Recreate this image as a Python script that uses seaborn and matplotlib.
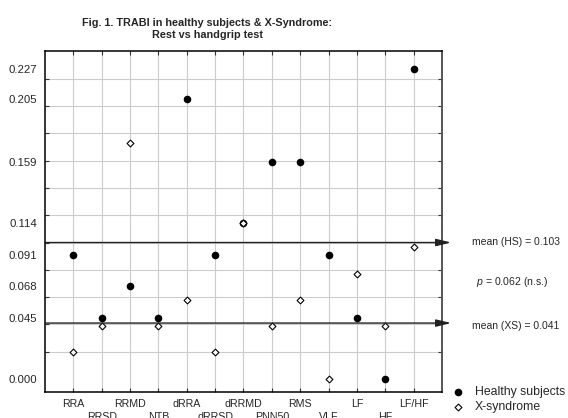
import matplotlib
matplotlib.use("Agg")
import matplotlib.pyplot as plt
import seaborn as sns
import pandas as pd
import numpy as np

categories = ["RRA", "RRSD", "RRMD", "NTB", "dRRA", "dRRSD", "dRRMD",
              "PNN50", "RMS", "VLF", "LF", "HF", "LF/HF"]
healthy = [0.091, 0.045, 0.068, 0.045, 0.205, 0.091, 0.114,
           0.159, 0.159, 0.091, 0.045, 0.000, 0.227]
xsyndrome = [0.020, 0.039, 0.173, 0.039, 0.058, 0.020, 0.114,
             0.039, 0.058, 0.000, 0.077, 0.039, 0.097]
ytick_values = [0.000, 0.045, 0.068, 0.091, 0.114, 0.159, 0.205, 0.227]
grid_values = [0.00, 0.02, 0.04, 0.06, 0.08, 0.10, 0.12, 0.14, 0.16, 0.18, 0.20, 0.22]
arrow_levels = [0.100, 0.041]
title = "Fig. 1. TRABI in healthy subjects & X-Syndrome:\nRest vs handgrip test"

sns.set_style("white")
plt.rcParams["font.family"] = ["Liberation Sans", "DejaVu Sans"]
plt.rcParams["mathtext.fontset"] = "custom"
plt.rcParams["mathtext.it"] = "Liberation Sans:italic"
plt.rcParams["mathtext.rm"] = "Liberation Sans"

df_hs = pd.DataFrame({"cat": categories, "val": healthy})
df_xs = pd.DataFrame({"cat": categories, "val": xsyndrome})

fig = plt.figure(figsize=(5.68, 4.18), dpi=100)
ax = fig.add_axes([45/568, 1-392/418, (442-45)/568, (392-51)/418])

sns.scatterplot(data=df_hs, x="cat", y="val", ax=ax, marker="o", color="black",
                s=30, linewidth=0, label="Healthy subjects", zorder=3)
sns.scatterplot(data=df_xs, x="cat", y="val", ax=ax, marker="D", color="white",
                edgecolor="black", s=12, linewidth=0.8, label="X-syndrome", zorder=4)

ax.set_xlim(-1, len(categories))
ax.set_ylim(-0.0095, 0.2403)
ax.set_xlabel("")
ax.set_ylabel("")

xt = list(range(len(categories)))
ax.set_xticks(xt)
ax.set_xticklabels([c if i % 2 == 0 else "\n" + c for i, c in enumerate(categories)],
                   fontsize=7.7, linespacing=1.35)
ax.set_yticks(ytick_values)
ax.set_yticklabels([f"{v:.3f}" for v in ytick_values], fontsize=8.2)
ax.set_yticks(grid_values, minor=True)

ax.tick_params(axis="y", which="major", length=0, pad=5.5)
ax.tick_params(axis="y", which="minor", direction="in", length=3, left=True, right=True,
               width=0.8, color="#333333")
ax.tick_params(axis="x", which="major", direction="in", length=3, top=True, bottom=True,
               width=0.8, pad=5, color="#333333")

ax.grid(False)
ax.grid(True, axis="x", which="major", color="#cccccc", linewidth=0.8, zorder=0)
ax.grid(True, axis="y", which="minor", color="#cccccc", linewidth=0.8, zorder=0)
ax.set_axisbelow(True)

for side in ["left", "bottom", "top"]:
    ax.spines[side].set_color("black")
    ax.spines[side].set_linewidth(1.1)
ax.spines["right"].set_color("#555555")
ax.spines["right"].set_linewidth(1.4)

for yv in arrow_levels:
    ax.annotate("", xy=(1.023, yv), xycoords=("axes fraction", "data"),
                xytext=(0.0, yv), textcoords=("axes fraction", "data"),
                arrowprops=dict(arrowstyle="-|>,head_length=0.9,head_width=0.22",
                                color="#222222", lw=1.0, shrinkA=0, shrinkB=0),
                annotation_clip=False, zorder=5)

tx = (471.7 - 45) / 397
ax.text(tx, 0.1004, "mean (HS) = 0.103", transform=ax.get_yaxis_transform(),
        fontsize=7.5, va="center", ha="left", clip_on=False)
ax.text((475.7 - 45) / 397, 0.0713, r"$p$ = 0.062 (n.s.)", transform=ax.get_yaxis_transform(),
        fontsize=7.6, va="center", ha="left", clip_on=False)
ax.text(tx, 0.0388, "mean (XS) = 0.041", transform=ax.get_yaxis_transform(),
        fontsize=7.5, va="center", ha="left", clip_on=False)

ax.legend(loc="center left", bbox_to_anchor=(453/568, 1-399.5/418),
          bbox_transform=fig.transFigure, frameon=False, fontsize=8.8,
          handlelength=0.8, handletextpad=1.0, borderpad=0, borderaxespad=0,
          labelspacing=0.2, markerscale=1.0)

fig.text(207/568, 1-29/418, title, ha="center", va="center", fontsize=7.8,
         fontweight="bold", linespacing=1.25)

fig.savefig("out.png", dpi=100)
